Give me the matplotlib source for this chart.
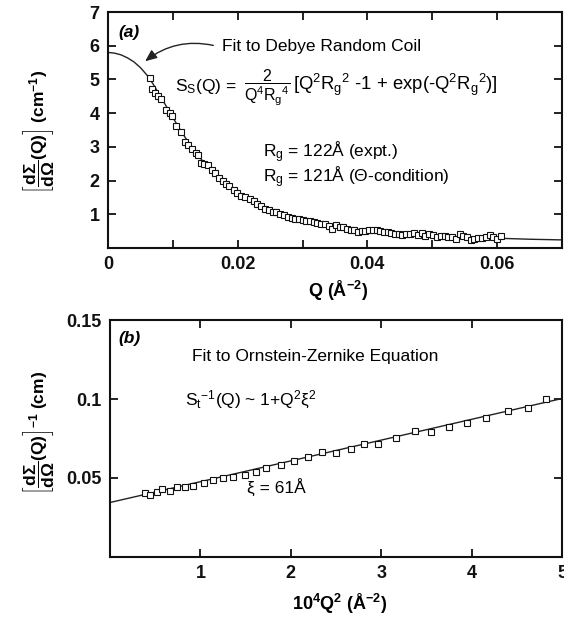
import matplotlib
matplotlib.use("Agg")
import matplotlib.pyplot as plt

plt.rcParams['font.family'] = ['Liberation Sans', 'DejaVu Sans']
plt.rcParams['mathtext.fontset'] = 'custom'
plt.rcParams['mathtext.rm'] = 'Liberation Sans'
plt.rcParams['mathtext.sf'] = 'Liberation Sans'
plt.rcParams['mathtext.it'] = 'Liberation Sans:italic'
plt.rcParams['mathtext.bf'] = 'Liberation Sans:bold'

# ---------------- Panel (a) data ----------------
qa_data = [0.0064, 0.0068, 0.0072, 0.0077, 0.0082, 0.0090, 0.0095, 0.0099, 0.0105, 0.0113,
           0.0118, 0.0124, 0.0130, 0.0135, 0.0139, 0.0143, 0.0148, 0.0154, 0.0160, 0.0165,
           0.0171, 0.0177, 0.0182, 0.0187, 0.0194, 0.0199, 0.0205, 0.0212, 0.0219, 0.0225,
           0.0230, 0.0236, 0.0242, 0.0248, 0.0254, 0.0259, 0.0265, 0.0271, 0.0277, 0.0283,
           0.0288, 0.0294, 0.0300, 0.0306, 0.0311, 0.0317, 0.0323, 0.0329, 0.0334, 0.0340,
           0.0345, 0.0351, 0.0357, 0.0362, 0.0368, 0.0374, 0.0380, 0.0385, 0.0391, 0.0397,
           0.0403, 0.0408, 0.0414, 0.0420, 0.0426, 0.0431, 0.0437, 0.0443, 0.0449, 0.0454,
           0.0460, 0.0466, 0.0472, 0.0478, 0.0484, 0.0489, 0.0495, 0.0501, 0.0507, 0.0513,
           0.0519, 0.0525, 0.0530, 0.0536, 0.0542, 0.0548, 0.0553, 0.0559, 0.0565, 0.0571,
           0.0577, 0.0583, 0.0589, 0.0594, 0.0600, 0.0606]
ia_data = [5.03, 4.72, 4.61, 4.51, 4.41, 4.08, 4.01, 3.91, 3.62, 3.43,
           3.15, 3.05, 2.93, 2.83, 2.75, 2.52, 2.50, 2.45, 2.32, 2.22,
           2.09, 1.99, 1.90, 1.85, 1.72, 1.64, 1.55, 1.52, 1.45, 1.38,
           1.30, 1.25, 1.17, 1.14, 1.08, 1.06, 1.01, 0.97, 0.93, 0.89,
           0.86, 0.85, 0.82, 0.80, 0.79, 0.76, 0.73, 0.72, 0.71, 0.66,
           0.57, 0.68, 0.61, 0.61, 0.56, 0.54, 0.53, 0.48, 0.51, 0.51,
           0.53, 0.53, 0.54, 0.49, 0.47, 0.46, 0.44, 0.43, 0.41, 0.39,
           0.41, 0.43, 0.45, 0.40, 0.44, 0.36, 0.41, 0.40, 0.32, 0.36,
           0.35, 0.34, 0.32, 0.27, 0.41, 0.36, 0.32, 0.25, 0.27, 0.30,
           0.30, 0.32, 0.39, 0.34, 0.27, 0.36]

qa_fit = [0.000, 0.001, 0.002, 0.003, 0.004, 0.005, 0.006, 0.007, 0.008, 0.009,
          0.010, 0.011, 0.012, 0.013, 0.014, 0.015, 0.016, 0.017, 0.018, 0.019,
          0.020, 0.021, 0.022, 0.023, 0.024, 0.025, 0.026, 0.027, 0.028, 0.029,
          0.030, 0.032, 0.034, 0.036, 0.038, 0.040, 0.043, 0.046, 0.050, 0.055,
          0.060, 0.065, 0.070]
ia_fit = [5.80, 5.78, 5.73, 5.64, 5.52, 5.35, 5.13, 4.85, 4.52, 4.20,
          3.87, 3.55, 3.25, 2.97, 2.72, 2.49, 2.29, 2.10, 1.93, 1.78,
          1.64, 1.51, 1.40, 1.30, 1.21, 1.13, 1.05, 0.98, 0.92, 0.87,
          0.82, 0.74, 0.67, 0.61, 0.56, 0.52, 0.47, 0.42, 0.37, 0.32,
          0.29, 0.26, 0.24]

xa_ticks = [0, 0.01, 0.02, 0.03, 0.04, 0.05, 0.06]
xa_labels = ['0', '', '0.02', '', '0.04', '', '0.06']
ya_ticks = [1, 2, 3, 4, 5, 6, 7]

# ---------------- Panel (b) data ----------------
xb_data = [0.39, 0.44, 0.52, 0.57, 0.66, 0.74, 0.83, 0.92, 1.04, 1.14,
           1.25, 1.36, 1.49, 1.61, 1.73, 1.89, 2.03, 2.19, 2.34, 2.50,
           2.67, 2.81, 2.96, 3.16, 3.37, 3.55, 3.75, 3.95, 4.16, 4.40,
           4.62, 4.82]
yb_data = [0.0403, 0.0392, 0.0413, 0.0428, 0.0420, 0.0445, 0.0440, 0.0450, 0.0466, 0.0487,
           0.0498, 0.0508, 0.0519, 0.0540, 0.0561, 0.0582, 0.0610, 0.0631, 0.0667, 0.0660,
           0.0684, 0.0715, 0.0715, 0.0751, 0.0797, 0.0789, 0.0821, 0.0846, 0.0878, 0.0924,
           0.0945, 0.0998]
xb_fit = [0.0, 5.0]
yb_fit = [0.0345, 0.1003]

xb_ticks = [1, 2, 3, 4, 5]
yb_ticks = [0.05, 0.1, 0.15]
yb_labels = ['0.05', '0.1', '0.15']

W, H = 564, 619
fig = plt.figure(figsize=(W / 100, H / 100), dpi=100)
fig.patch.set_facecolor('white')


def fx(px):
    return px / W


def fy(py):
    return 1 - py / H


ax1 = fig.add_axes([fx(108), fy(248), (562 - 108) / W, (248 - 12) / H])
ax2 = fig.add_axes([fx(110), fy(557), (562 - 110) / W, (557 - 320) / H])

TFS = 13
for ax in (ax1, ax2):
    for s in ax.spines.values():
        s.set_linewidth(1.5)
        s.set_color('#111111')
    ax.tick_params(direction='in', length=6, width=1.3, top=True, right=True,
                   labelsize=TFS, colors='#111111', pad=6)

# Panel (a)
ax1.plot(qa_fit, ia_fit, '-', color='#222222', lw=1.0, zorder=2)
ax1.plot(qa_data, ia_data, 's', ms=3.8, mfc='white', mec='#111111', mew=0.8, zorder=3)
ax1.set_xlim(0, 0.07)
ax1.set_ylim(0, 7)
ax1.set_xticks(xa_ticks)
ax1.set_xticklabels(xa_labels, fontweight='bold', fontsize=TFS)
ax1.set_yticks(ya_ticks)
ax1.set_yticklabels([str(v) for v in ya_ticks], fontweight='bold', fontsize=TFS)

# Panel (b)
ax2.plot(xb_fit, yb_fit, '-', color='#222222', lw=1.0, zorder=2)
ax2.plot(xb_data, yb_data, 's', ms=3.8, mfc='white', mec='#111111', mew=0.8, zorder=3)
ax2.set_xlim(0, 5)
ax2.set_ylim(0, 0.15)
ax2.set_xticks(xb_ticks)
ax2.set_xticklabels([str(v) for v in xb_ticks], fontweight='bold', fontsize=TFS)
ax2.set_yticks(yb_ticks)
ax2.set_yticklabels(yb_labels, fontweight='bold', fontsize=TFS)

# Labels
fig.text(fx(338), fy(291), r'Q (Å$^{\mathbf{-2}}$)', ha='center', va='center',
         fontsize=13, fontweight='bold')
fig.text(fx(340), fy(604), r'10$^{\mathbf{4}}$Q$^{\mathbf{2}}$ (Å$^{\mathbf{-2}}$)',
         ha='center', va='center', fontsize=13, fontweight='bold')
fig.text(fx(38), fy(132), r'$\left[\mathbf{\dfrac{dΣ}{dΩ}(Q)}\right]$ (cm$^{\mathbf{-1}}$)',
         rotation=90, ha='center', va='center', fontsize=12.5, fontweight='bold')
fig.text(fx(38), fy(433), r'$\left[\mathbf{\dfrac{dΣ}{dΩ}(Q)}\right]^{\mathbf{-1}}$ (cm)',
         rotation=90, ha='center', va='center', fontsize=12.5, fontweight='bold')

FS = 12.5
# Annotations panel (a)
fig.text(fx(118), fy(33), '(a)', fontsize=12.5, fontweight='bold', fontstyle='italic',
         ha='left', va='center')
fig.text(fx(222), fy(47), 'Fit to Debye Random Coil', fontsize=FS, ha='left', va='center')
ax1.annotate('', xy=(fx(143), fy(63)), xycoords='figure fraction',
             xytext=(fx(216), fy(46)), textcoords='figure fraction',
             arrowprops=dict(arrowstyle='-|>,head_length=0.7,head_width=0.3',
                             connectionstyle='arc3,rad=0.25', color='#222222', lw=1.0))
fig.text(fx(175), fy(86), r'S$_\mathrm{S}$(Q) =', fontsize=12.5, ha='left', va='center')
fig.text(fx(267), fy(88), r'$\mathrm{\dfrac{2}{Q^4R_g{}^4}}$',
         fontsize=11.5, ha='center', va='center')
fig.text(fx(293), fy(85),
         r'[Q$^2$R$_\mathrm{g}$$^2$ -1 + exp(-Q$^2$R$_\mathrm{g}$$^2$)]',
         fontsize=13.3, ha='left', va='center')
fig.text(fx(263), fy(152), r'R$_\mathrm{g}$ = 122Å (expt.)', fontsize=FS, ha='left', va='center')
fig.text(fx(263), fy(177), r'R$_\mathrm{g}$ = 121Å (Θ-condition)', fontsize=FS, ha='left', va='center')

# Annotations panel (b)
fig.text(fx(118), fy(339), '(b)', fontsize=12.5, fontweight='bold', fontstyle='italic',
         ha='left', va='center')
fig.text(fx(192), fy(357), 'Fit to Ornstein-Zernike Equation', fontsize=FS, ha='left', va='center')
fig.text(fx(185), fy(400), r'S$_\mathrm{t}$$^{-1}$(Q) ~ 1+Q$^2$ξ$^2$', fontsize=FS, ha='left', va='center')
fig.text(fx(247), fy(488), 'ξ = 61Å', fontsize=FS, ha='left', va='center')

fig.savefig('out.png', dpi=100, facecolor='white')
